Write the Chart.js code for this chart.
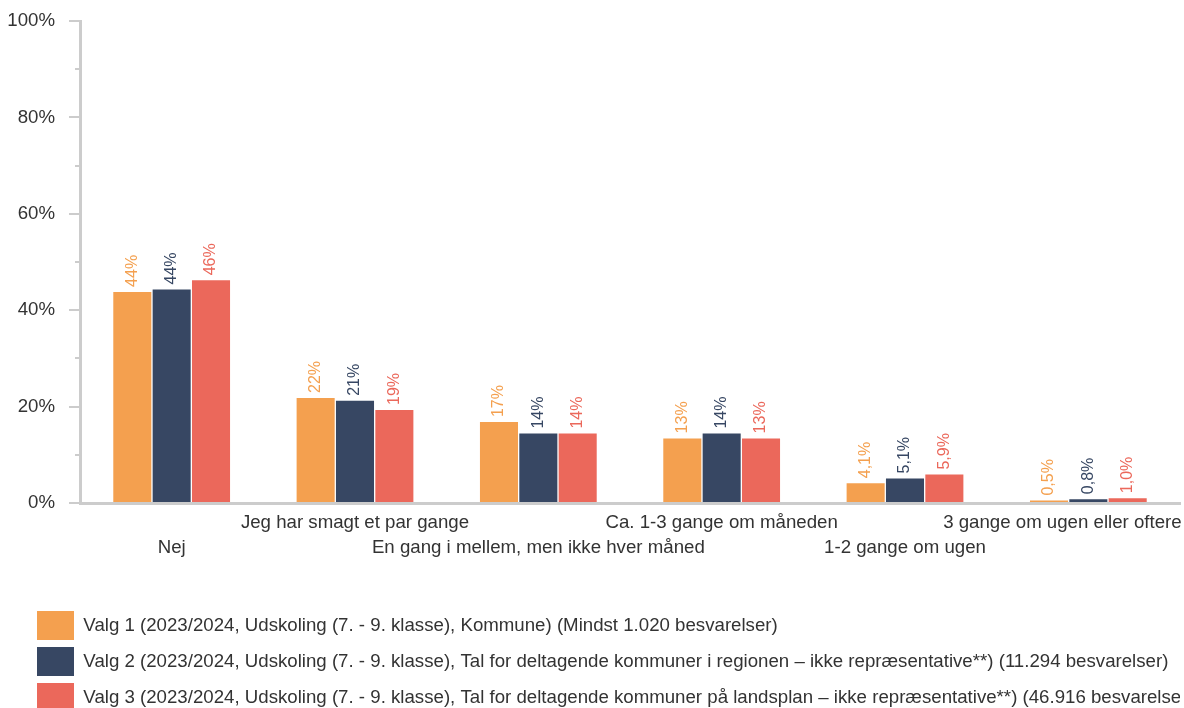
<!DOCTYPE html>
<html>
<head>
<meta charset="utf-8">
<script src="https://cdn.jsdelivr.net/npm/chart.js@4"></script>
<style>
  html, body { margin: 0; padding: 0; background: #fff; overflow: hidden; }
  #wrap { width: 1184px; height: 722px; position: relative; }
</style>
</head>
<body>
<div id="wrap"><canvas id="myChart"></canvas></div>
<script>
var categories = ['Nej', 'Jeg har smagt et par gange', 'En gang i mellem, men ikke hver måned',
  'Ca. 1-3 gange om måneden', '1-2 gange om ugen', '3 gange om ugen eller oftere'];
var valg1 = [43.8, 21.8, 16.8, 13.4, 4.1, 0.5];
var valg2 = [44.3, 21.2, 14.4, 14.4, 5.1, 0.8];
var valg3 = [46.2, 19.3, 14.4, 13.4, 5.9, 1.0];
var seriesNames = [
  'Valg 1 (2023/2024, Udskoling (7. - 9. klasse), Kommune) (Mindst 1.020 besvarelser)',
  'Valg 2 (2023/2024, Udskoling (7. - 9. klasse), Tal for deltagende kommuner i regionen – ikke repræsentative**) (11.294 besvarelser)',
  'Valg 3 (2023/2024, Udskoling (7. - 9. klasse), Tal for deltagende kommuner på landsplan – ikke repræsentative**) (46.916 besvarelser)'
];
var yTicks = [0, 20, 40, 60, 80, 100];
var colors = ['#F4A04F', '#374763', '#EB685B'];

// stagger labels on two rows; last one nudged left a bit like the original
var xLabels = categories.map(function (c, i) {
  if (i === categories.length - 1) c = c + '\u00a0'.repeat(10);
  return i % 2 === 0 ? ['', c] : [c, ''];
});

function fmt(v) {
  return v >= 10 ? Math.round(v) + '%' : v.toFixed(1).replace('.', ',') + '%';
}

Chart.defaults.font.family = 'Arial, "Liberation Sans", sans-serif';
Chart.defaults.color = '#333';

var legendShift = {
  id: 'legendShift',
  afterLayout: function (chart) {
    // move legend in so the boxes start at ~37px
    chart.legend.left += 30;
  }
};

var valueLabels = {
  id: 'valueLabels',
  afterDatasetsDraw: function (chart) {
    var ctx = chart.ctx;
    ctx.save();
    ctx.font = '16px Arial, "Liberation Sans", sans-serif';
    chart.data.datasets.forEach(function (ds, di) {
      var meta = chart.getDatasetMeta(di);
      meta.data.forEach(function (bar, i) {
        ctx.save();
        ctx.translate(bar.x, bar.y - 5);
        ctx.rotate(-Math.PI / 2);
        ctx.fillStyle = ds.backgroundColor;
        ctx.textAlign = 'left';
        ctx.textBaseline = 'middle';
        ctx.fillText(fmt(ds.data[i]), 0, 0);
        ctx.restore();
      });
    });
    ctx.restore();
  }
};

var minorTicks = {
  id: 'minorTicks',
  afterDraw: function (chart) {
    var y = chart.scales.y, ctx = chart.ctx;
    ctx.save();
    ctx.strokeStyle = '#ccc';
    ctx.lineWidth = 2;
    for (var v = 10; v < 100; v += 20) {
      var py = Math.round(y.getPixelForValue(v));
      ctx.beginPath();
      ctx.moveTo(y.right - 5, py);
      ctx.lineTo(y.right, py);
      ctx.stroke();
    }
    ctx.restore();
  }
};

var ctx = document.getElementById('myChart').getContext('2d');
var myChart = new Chart(ctx, {
  type: 'bar',
  data: {
    labels: xLabels,
    datasets: [valg1, valg2, valg3].map(function (d, i) {
      return {
        label: seriesNames[i],
        data: d,
        backgroundColor: colors[i],
        borderWidth: 0,
        barPercentage: 0.967,
        categoryPercentage: 0.644
      };
    })
  },
  options: {
    responsive: true,
    maintainAspectRatio: false,
    animation: false,
    layout: { padding: { top: 21, left: 0, right: 4, bottom: 0 } },
    plugins: {
      tooltip: { enabled: false },
      legend: {
        position: 'bottom',
        align: 'start',
        labels: {
          boxWidth: 37,
          boxHeight: 29,
          padding: 7,
          color: '#333',
          font: { size: 18.67 }
        }
      }
    },
    scales: {
      x: {
        grid: { drawOnChartArea: false, drawTicks: false },
        border: { color: '#ccc', width: 3 },
        ticks: {
          autoSkip: false,
          maxRotation: 0,
          minRotation: 0,
          padding: 7,
          color: '#333',
          font: { size: 18.67, lineHeight: 1.34 }
        },
        afterFit: function (scale) {
          scale.paddingLeft = 0;
          scale.paddingRight = 0;
          scale.height = 101;
        }
      },
      y: {
        min: 0,
        max: 100,
        grid: { drawOnChartArea: false, drawTicks: true, tickLength: 11, color: '#ccc', lineWidth: 2 },
        border: { color: '#ccc', width: 3 },
        afterBuildTicks: function (scale) {
          scale.ticks = yTicks.map(function (v) { return { value: v }; });
        },
        ticks: {
          padding: 14,
          color: '#333',
          font: { size: 18.67 },
          callback: function (v) { return v + '%'; }
        },
        afterFit: function (scale) {
          scale.width = 80;
          scale.paddingTop = 0;
          scale.paddingBottom = 0;
        }
      }
    }
  },
  plugins: [legendShift, valueLabels, minorTicks]
});
</script>
</body>
</html>
